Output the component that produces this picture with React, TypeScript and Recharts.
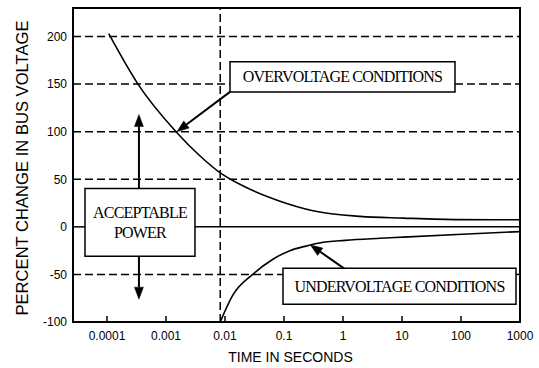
import React from 'react';
import { LineChart, Line, XAxis, YAxis, ReferenceLine, ReferenceArea } from 'recharts';

// ---- data ----
const overTime = [1.07e-4, 3.35e-4, 1.48e-3, 3.7e-3, 8.2e-3, 0.0236, 0.0855, 0.31, 1.94, 10.5, 95, 1000];
const overPct = [203, 150, 100, 75, 57, 41, 27, 17, 11, 9.2, 7.6, 7.4];
const underTime = [0.0083, 0.0135, 0.0295, 0.065, 0.126, 0.227, 0.4, 1.08, 4.3, 10.5, 105, 1000];
const underPct = [-100, -72, -50, -34, -25, -20.5, -17, -14.2, -12, -10.8, -7.8, -5];

const xTicks = [0.0001, 0.001, 0.01, 0.1, 1, 10, 100, 1000];
const xTickLabels = ['0.0001', '0.001', '0.01', '0.1', '1', '10', '100', '1000'];
const yTicks = [-100, -50, 0, 50, 100, 150, 200];
const dashedLevels = [200, 150, 100, 50, -50];
const halfCycle = 0.0083;
const X_MIN = 2.655e-5;
const X_MAX = 1000;
const Y_MIN = -100;
const Y_MAX = 230;

const boxes = [
  { x1: 4.24e-5, x2: 3.1e-3, y1: -31, y2: 40.4, lines: ['ACCEPTABLE', 'POWER'] },
  { x1: 0.01216, x2: 79.1, y1: 141.8, y2: 173.5, lines: ['OVERVOLTAGE CONDITIONS'] },
  { x1: 0.0962, x2: 855, y1: -81.4, y2: -43.6, lines: ['UNDERVOLTAGE CONDITIONS'] },
];

const arrows = [
  { from: { x: 0.01216, y: 141.8 }, to: { x: 1.53e-3, y: 100 } },
  { from: { x: 1.04, y: -43.6 }, to: { x: 0.28, y: -19 } },
  { from: { x: 3.48e-4, y: 40.4 }, to: { x: 3.48e-4, y: 118 } },
  { from: { x: 3.48e-4, y: -31 }, to: { x: 3.48e-4, y: -76 } },
];

// merged table
const rowMap = new Map<number, any>();
overTime.forEach((t, i) => { rowMap.set(t, { ...(rowMap.get(t) || { t }), over: overPct[i] }); });
underTime.forEach((t, i) => { rowMap.set(t, { ...(rowMap.get(t) || { t }), under: underPct[i] }); });
const rows = Array.from(rowMap.values()).sort((a, b) => a.t - b.t);

// split a horizontal level into segments avoiding boxes
function segmentsFor(y: number): [number, number][] {
  let segs: [number, number][] = [[X_MIN, X_MAX]];
  boxes.forEach((b) => {
    if (y > b.y1 && y < b.y2) {
      const next: [number, number][] = [];
      segs.forEach(([a, c]) => {
        if (b.x2 <= a || b.x1 >= c) { next.push([a, c]); return; }
        if (b.x1 > a) next.push([a, b.x1]);
        if (b.x2 < c) next.push([b.x2, c]);
      });
      segs = next;
    }
  });
  return segs;
}

const SANS = '"Liberation Sans", Arial, Helvetica, sans-serif';
const SERIF = '"Liberation Serif", "Times New Roman", serif';

const arrowShape = (p: any) => {
  const { x1, y1, x2, y2 } = p;
  const a = Math.atan2(y2 - y1, x2 - x1);
  const L = 12;
  const Wd = 4.5;
  const bx = x2 - L * Math.cos(a);
  const by = y2 - L * Math.sin(a);
  const px = -Math.sin(a) * Wd;
  const py = Math.cos(a) * Wd;
  const pts = `${x2},${y2} ${bx + px},${by + py} ${bx - px},${by - py}`;
  return (
    <g>
      <line x1={x1} y1={y1} x2={bx} y2={by} stroke="#000" strokeWidth={2} />
      <polygon points={pts} fill="#000" stroke="#000" strokeWidth={0.5} />
    </g>
  );
};

const XTick = (props: any) => {
  const { x, y, payload } = props;
  const idx = xTicks.indexOf(payload.value);
  const label = idx >= 0 ? xTickLabels[idx] : String(payload.value);
  return (
    <g>
      <line x1={x} x2={x} y1={y} y2={y - 6} stroke="#000" strokeWidth={1.5} />
      <text x={x} y={y + 18} textAnchor="middle" fontSize={12} fontFamily={SANS} fill="#000">
        {label}
      </text>
    </g>
  );
};

const boxLabel = (lines: string[]) => (props: any) => {
  const { viewBox } = props;
  const cx = viewBox.x + viewBox.width / 2;
  const cy = viewBox.y + viewBox.height / 2;
  const gap = 20;
  const start = cy - ((lines.length - 1) * gap) / 2;
  return (
    <g>
      {lines.map((l, i) => (
        <text key={i} x={cx} y={start + i * gap} textAnchor="middle" dominantBaseline="central"
          fontSize={16} fontFamily={SERIF} letterSpacing={-0.8} fill="#000">
          {l}
        </text>
      ))}
    </g>
  );
};

const yLabel = (props: any) => {
  const { viewBox } = props;
  const cx = viewBox.x + 22;
  const cy = viewBox.y + viewBox.height / 2 + 3;
  return (
    <text x={cx} y={cy} transform={`rotate(-90, ${cx}, ${cy})`} textAnchor="middle" dominantBaseline="central"
      fontSize={16.6} fontFamily={SANS} fill="#000">
      PERCENT CHANGE IN BUS VOLTAGE
    </text>
  );
};

const xLabel = (props: any) => {
  const { viewBox } = props;
  return (
    <text x={viewBox.x + viewBox.width / 2 - 6} y={viewBox.y + 40} textAnchor="middle"
      fontSize={14} fontFamily={SANS} fill="#000">
      TIME IN SECONDS
    </text>
  );
};

export default function App() {
  return (
    <div style={{ position: 'absolute', left: 0, top: 0, background: '#fff' }}>
      <LineChart width={539} height={368} data={rows} margin={{ top: 8, right: 19, bottom: 0, left: 0 }}>
        <XAxis dataKey="t" type="number" scale="log" domain={[X_MIN, X_MAX]} ticks={xTicks}
          allowDataOverflow axisLine={{ stroke: '#000', strokeWidth: 2 }} tickLine={false}
          tickSize={0} tickMargin={0} tick={<XTick />} height={46} interval={0} label={xLabel} />
        <YAxis type="number" domain={[Y_MIN, Y_MAX]} ticks={yTicks} width={73} allowDataOverflow
          axisLine={{ stroke: '#000', strokeWidth: 2 }} tickLine={false} tickSize={4} tickMargin={2}
          tick={{ fill: '#000', fontSize: 12, fontFamily: SANS }} interval={0} label={yLabel} />

        {dashedLevels.map((lv) =>
          segmentsFor(lv).map(([a, c], i) => (
            <ReferenceLine key={`d${lv}-${i}`} segment={[{ x: a, y: lv }, { x: c, y: lv }]}
              stroke="#000" strokeWidth={1.5} strokeDasharray="8 4" ifOverflow="visible" />
          ))
        )}
        {segmentsFor(0).map(([a, c], i) => (
          <ReferenceLine key={`z-${i}`} segment={[{ x: a, y: 0 }, { x: c, y: 0 }]}
            stroke="#000" strokeWidth={1.5} ifOverflow="visible" />
        ))}
        <ReferenceLine segment={[{ x: halfCycle, y: Y_MIN }, { x: halfCycle, y: Y_MAX }]}
          stroke="#000" strokeWidth={1.5} strokeDasharray="8 4" ifOverflow="visible" />

        {boxes.map((b, i) => (
          <ReferenceArea key={`b${i}`} x1={b.x1} x2={b.x2} y1={b.y1} y2={b.y2} fill="#fff" fillOpacity={1}
            stroke="#000" strokeWidth={1.5} ifOverflow="visible" label={boxLabel(b.lines)} />
        ))}

        {arrows.map((a, i) => (
          <ReferenceLine key={`a${i}`} segment={[a.from, a.to]} shape={arrowShape} ifOverflow="visible" />
        ))}

        <ReferenceArea x1={X_MIN} x2={X_MAX} y1={Y_MIN} y2={Y_MAX} fill="none" stroke="#000"
          strokeWidth={2} ifOverflow="visible" />

        <Line dataKey="over" type="monotone" stroke="#000" strokeWidth={1.6} dot={false}
          connectNulls isAnimationActive={false} />
        <Line dataKey="under" type="monotone" stroke="#000" strokeWidth={1.6} dot={false}
          connectNulls isAnimationActive={false} />
      </LineChart>
    </div>
  );
}
